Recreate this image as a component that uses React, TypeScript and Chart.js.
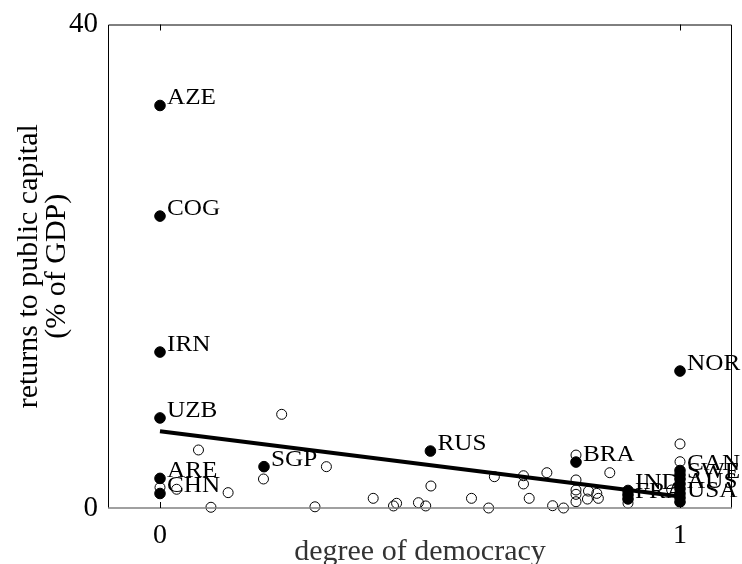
import React, { useEffect, useRef } from "react";
import { Chart, registerables } from "chart.js";

Chart.register(...registerables);

// Labeled (filled) countries
const labeledNames = ["AZE", "COG", "IRN", "UZB", "ARE", "CHN", "SGP", "RUS", "BRA", "NOR", "IND", "FRA", "CAN", "SWE", "AUS", "USA"];
const labeledX = [0, 0, 0, 0, 0, 0, 0.2, 0.52, 0.8, 1, 0.9, 0.9, 1, 1, 1, 1];
const labeledY = [33.3, 24.15, 12.9, 7.45, 2.45, 1.2, 3.42, 4.71, 3.8, 11.33, 1.45, 0.75, 3.1, 2.4, 1.6, 0.85];

// Filled points whose labels are hidden in the overlap
const extraFilledX = [1, 1, 1, 1, 0.9];
const extraFilledY = [2.75, 2.0, 1.2, 0.5, 1.1];

// Open circles (other countries)
const openX = [0, 0.032, 0.074, 0.098, 0.131, 0.199, 0.234, 0.298, 0.32, 0.41, 0.449, 0.455, 0.497, 0.511, 0.521, 0.599, 0.632, 0.643, 0.699, 0.699, 0.71, 0.744, 0.755, 0.776, 0.8, 0.8, 0.8, 0.8, 0.8, 0.824, 0.84, 0.843, 0.822, 0.865, 0.9, 0.984, 1, 1];
const openY = [1.7, 1.55, 4.8, 0.06, 1.27, 2.4, 7.75, 0.1, 3.42, 0.8, 0.17, 0.39, 0.44, 0.17, 1.82, 0.8, 0.0, 2.59, 2.67, 1.99, 0.8, 2.92, 0.19, 0.0, 4.38, 2.32, 1.49, 1.13, 0.52, 1.4, 1.21, 0.8, 0.74, 2.92, 0.4, 1.49, 5.3, 3.83];

// Fitted line end points
const fitX = [0, 1];
const fitY = [6.35, 0.95];

const xTicks = [0, 1];
const yTicks = [0, 40];
const xTitle = "degree of democracy";
const yTitle = ["returns to public capital", "(% of GDP)"];

const FONT = "'Liberation Serif', 'Times New Roman', serif";

const framePlugin = {
  id: "frameAndLabels",
  afterDatasetsDraw(chart: any) {
    const ctx = chart.ctx;
    const meta = chart.getDatasetMeta(1);
    ctx.save();
    ctx.fillStyle = "#000";
    ctx.font = `24px ${FONT}`;
    ctx.textAlign = "left";
    ctx.textBaseline = "alphabetic";
    meta.data.forEach((el: any, i: number) => {
      const name = labeledNames[i];
      if (!name) return;
      ctx.save();
      ctx.translate(el.x + 7, el.y - 1);
      ctx.scale(1.05, 1);
      ctx.fillText(name, 0, 0);
      ctx.restore();
    });
    ctx.restore();
  },
  afterDraw(chart: any) {
    const { ctx, chartArea } = chart;
    const { left, right, top, bottom } = chartArea;
    const xs = chart.scales.x;
    ctx.save();
    ctx.strokeStyle = "#000";
    ctx.lineWidth = 1;
    ctx.beginPath();
    ctx.moveTo(left + 0.5, bottom);
    ctx.lineTo(left + 0.5, top + 0.5);
    ctx.lineTo(right - 0.5, top + 0.5);
    ctx.lineTo(right - 0.5, bottom);
    ctx.stroke();
    ctx.strokeStyle = "#808080";
    ctx.lineWidth = 1.5;
    ctx.beginPath();
    ctx.moveTo(left, bottom);
    ctx.lineTo(right, bottom);
    ctx.stroke();
    ctx.lineWidth = 1;
    ctx.strokeStyle = "#000";
    xTicks.forEach((v) => {
      const px = Math.round(xs.getPixelForValue(v)) + 0.5;
      ctx.beginPath();
      ctx.moveTo(px, top);
      ctx.lineTo(px, top + 6);
      ctx.moveTo(px, bottom);
      ctx.lineTo(px, bottom - 6);
      ctx.stroke();
    });
    ctx.restore();
  },
};

export default function App() {
  const ref = useRef<HTMLCanvasElement | null>(null);
  useEffect(() => {
    if (!ref.current) return;
    const chart = new Chart(ref.current, {
      type: "scatter",
      data: {
        datasets: [
          {
            type: "line",
            label: "fit",
            data: fitX.map((x, i) => ({ x, y: fitY[i] })),
            borderColor: "#000",
            borderWidth: 4,
            pointRadius: 0,
            fill: false,
            order: 0,
            clip: false,
          } as any,
          {
            label: "labeled",
            data: labeledX.map((x, i) => ({ x, y: labeledY[i] })),
            backgroundColor: "#000",
            borderColor: "#000",
            borderWidth: 1,
            pointRadius: 5.3,
            order: 1,
            clip: false,
          },
          {
            label: "filled",
            data: extraFilledX.map((x, i) => ({ x, y: extraFilledY[i] })),
            backgroundColor: "#000",
            borderColor: "#000",
            borderWidth: 1,
            pointRadius: 5.3,
            order: 2,
            clip: false,
          },
          {
            label: "open",
            data: openX.map((x, i) => ({ x, y: openY[i] })),
            backgroundColor: "rgba(0,0,0,0)",
            borderColor: "#000",
            borderWidth: 1,
            pointRadius: 5,
            order: 3,
            clip: false,
          },
        ],
      },
      options: {
        animation: false,
        responsive: false,
        devicePixelRatio: 1,
        layout: { padding: { top: 24, right: 10, bottom: 0, left: 0 } },
        plugins: { legend: { display: false }, tooltip: { enabled: false } },
        scales: {
          x: {
            type: "linear",
            min: -0.1,
            max: 1.1,
            afterBuildTicks: (s: any) => {
              s.ticks = xTicks.map((v) => ({ value: v }));
            },
            afterFit: (s: any) => {
              s.height = 56;
            },
            grid: { display: false, drawTicks: false, tickLength: 0 },
            border: { display: false },
            ticks: {
              color: "#000",
              padding: 14,
              maxRotation: 0,
              font: { family: FONT, size: 28, lineHeight: 1.0 },
            },
            title: {
              display: true,
              text: xTitle,
              color: "#333",
              padding: { top: 0, bottom: -3 },
              font: { family: FONT, size: 30, lineHeight: 1.0 },
            },
          },
          y: {
            type: "linear",
            min: 0,
            max: 40,
            afterBuildTicks: (s: any) => {
              s.ticks = yTicks.map((v) => ({ value: v }));
            },
            afterFit: (s: any) => {
              s.width = 108;
            },
            grid: { display: false, drawTicks: false, tickLength: 0 },
            border: { display: false },
            ticks: {
              color: "#000",
              padding: 10,
              font: { family: FONT, size: 29, lineHeight: 1.0 },
            },
            title: {
              display: true,
              text: yTitle,
              color: "#000",
              padding: { top: 15, bottom: 0 },
              font: { family: FONT, size: 30, lineHeight: 0.93 },
            },
          },
        },
      },
      plugins: [framePlugin],
    });
    return () => chart.destroy();
  }, []);
  return (
    <div style={{ position: "fixed", left: 0, top: 0, width: 742, height: 564, background: "#fff" }}>
      <canvas ref={ref} width={742} height={564} style={{ width: 742, height: 564 }} />
    </div>
  );
}
